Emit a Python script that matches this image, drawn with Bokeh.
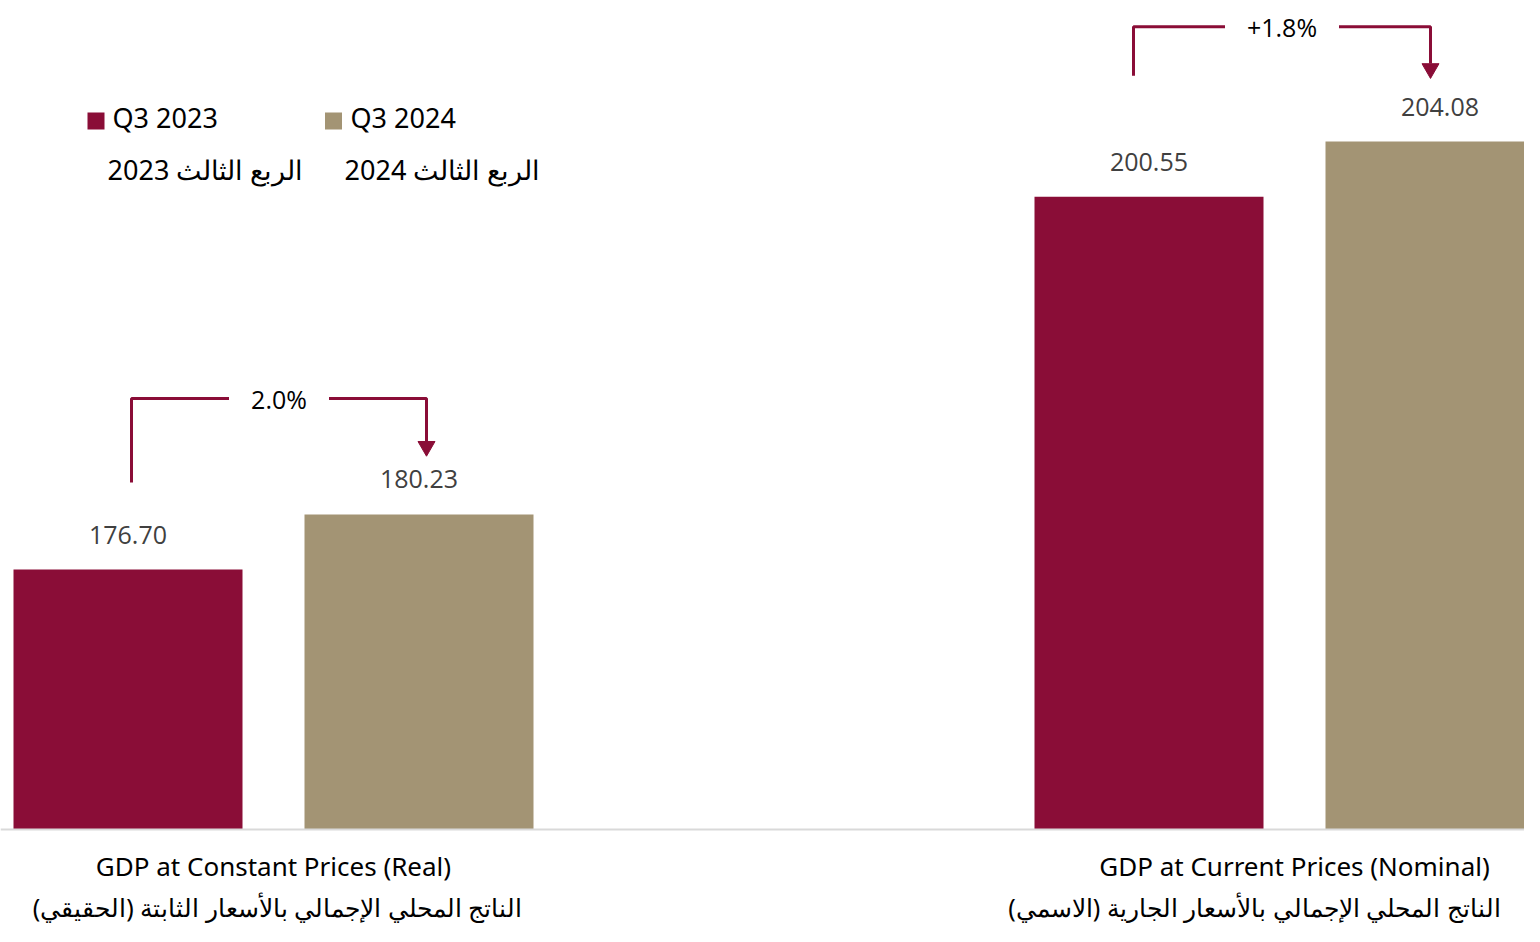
from bokeh.plotting import figure
from bokeh.models import Range1d, ColumnDataSource, Span
from bokeh.core.properties import value
from bokeh.embed import file_html
from bokeh.resources import INLINE

# ---------------- data ----------------
categories = ["GDP at Constant Prices (Real)", "GDP at Current Prices (Nominal)"]
categories_ar = ["الناتج المحلي الإجمالي بالأسعار الثابتة (الحقيقي)",
                 "الناتج المحلي الإجمالي بالأسعار الجارية (الاسمي)"]
series = ["Q3 2023", "Q3 2024"]
series_ar = ["الربع الثالث 2023", "الربع الثالث 2024"]
q3_2023 = [176.70, 200.55]
q3_2024 = [180.23, 204.08]
changes = ["2.0%", "+1.8%"]

# ---------------- styles / layout ----------------
C1 = "#8A0D37"
C2 = "#A39474"
W, H = 1524, 926
PX = 1021.0      # pixels per group unit
PY = 15.63       # pixels per value unit
BASE = 160.07    # value at the baseline
X0 = 273.0       # pixel of first group centre
YB = 829.0       # pixel of baseline

def rx(px):
    return (px - X0) / PX

def ry(py):
    return BASE + (YB - py) / PY

OFF = 145.5 / PX
BW = 229.0 / PX

p = figure(width=W, height=H, output_backend="svg", toolbar_location=None,
           x_range=Range1d(rx(0), rx(W)), y_range=Range1d(ry(H), ry(0)),
           min_border=0, min_border_left=0, min_border_right=0,
           min_border_top=0, min_border_bottom=0)
p.axis.visible = False
p.grid.visible = False
p.outline_line_color = None
p.background_fill_color = "white"
p.border_fill_color = "white"

g = list(range(len(categories)))
ar_dx = [4, -40]   # pixel shift of the Arabic category labels
src = ColumnDataSource(dict(
    x1=[i - OFF for i in g], x2=[i + OFF for i in g],
    v1=q3_2023, v2=q3_2024,
    t1=[f"{v:.2f}" for v in q3_2023], t2=[f"{v:.2f}" for v in q3_2024],
    cat=categories, cat_ar=categories_ar, gx=[float(i) for i in g],
    ax=[i + ar_dx[i] / PX for i in g],
))

p.vbar(x="x1", width=BW, bottom=BASE, top="v1", source=src, fill_color=C1, line_color=None)
p.vbar(x="x2", width=BW, bottom=BASE, top="v2", source=src, fill_color=C2, line_color=None)

p.add_layout(Span(location=BASE, dimension="width", line_color="#d9d9d9", line_width=2))

# value labels
for xs, ts, vs in (("x1", "t1", "v1"), ("x2", "t2", "v2")):
    p.text(x=xs, y=vs, text=ts, source=src, text_align="center", text_baseline="middle",
           y_offset=-35, text_font=value("Open Sans"), text_font_size="25px",
           text_color="#404040")

# category labels
p.text(x="gx", y=BASE, text="cat", source=src, text_align="center", text_baseline="middle",
       y_offset=36, text_font=value("Noto Sans"), text_font_size="26px", text_color="black")
p.text(x="ax", y=BASE, text="cat_ar", source=src, text_align="center", text_baseline="middle",
       y_offset=77, text_font=value("Noto Sans"), text_font_size="25px", text_color="black")

# change brackets (pixel offsets)
left_dx = [-142, -161]
right_dx = [153, 136]
top_up = [171, 170]        # px above Q3 2023 bar top
left_up = [87, 121]        # px above Q3 2023 bar top
tip_up = [61, 66]          # px above Q3 2024 bar top
gap = [50, 57]
for i in g:
    xl = i + left_dx[i] / PX
    xr = i + right_dx[i] / PX
    xm = (xl + xr) / 2
    yt = q3_2023[i] + top_up[i] / PY
    yl = q3_2023[i] + left_up[i] / PY
    ytip = q3_2024[i] + tip_up[i] / PY
    p.multi_line(xs=[[xl, xl, xm - gap[i] / PX], [xm + gap[i] / PX, xr, xr]],
                 ys=[[yl, yt, yt], [yt, yt, ytip + 12 / PY]],
                 line_color=C1, line_width=3)
    p.scatter(x=[xr], y=[ytip + 7 / PY], marker="inverted_triangle", size=17,
              fill_color=C1, line_color=C1)
    p.text(x=[xm], y=[yt], text=[changes[i]], text_align="center", text_baseline="middle",
           text_font=value("Open Sans"), text_font_size="25px", text_color="black")

# legend
sq_x = [rx(95.5), rx(333)]
txt_x = [rx(112), rx(350)]
ar_x = [rx(205), rx(442)]
p.scatter(x=sq_x, y=[ry(120.5)] * 2, marker="square", size=17,
          fill_color=[C1, C2], line_color=None)
p.text(x=txt_x, y=[ry(117)] * 2, text=series, text_align="left", text_baseline="middle",
       text_font=value("Noto Sans"), text_font_size="27px", text_color="black")
p.text(x=ar_x, y=[ry(169)] * 2, text=series_ar, text_align="center", text_baseline="middle",
       text_font=value("Noto Sans"), text_font_size="27px", text_color="black")

open("out.html", "w").write(file_html(p, INLINE))
